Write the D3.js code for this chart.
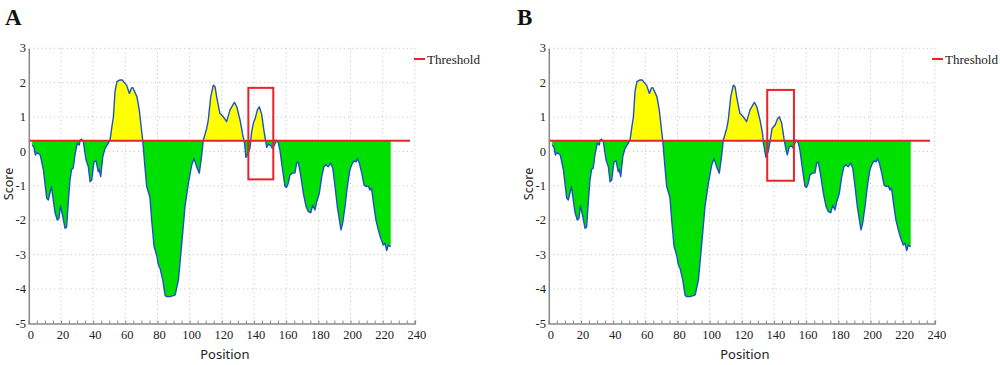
<!DOCTYPE html>
<html><head><meta charset="utf-8">
<script src="https://cdn.jsdelivr.net/npm/d3@7/dist/d3.min.js"></script>
<style>body{margin:0;background:#fff}svg{display:block}</style>
</head><body><svg id="c" width="1000" height="365"></svg>
<script>
const positions = [2.1,3.1,4.1,5.1,7.1,9.1,11.1,12.1,14.1,16.2,17.7,18.7,19.7,21.2,22.5,23.5,24.5,25.6,26.6,27.6,28.7,30.1,31.4,31.9,32.9,33.9,34.6,35.6,37.0,38.1,39.1,40.5,41.8,43.2,43.8,44.7,46.0,47.4,48.8,50.5,51.6,52.6,53.6,54.8,56.7,58.1,59.8,60.8,62.5,63.8,64.6,66.0,67.3,68.7,69.6,70.8,72.2,73.3,75.3,76.4,77.9,79.5,80.6,81.6,83.3,84.7,85.7,87.8,89.8,91.0,93.0,95.1,97.1,99.2,101.3,102.7,104.3,106.0,107.4,108.5,110.6,111.6,113.1,114.7,115.8,116.8,118.8,120.9,123.0,125.1,127.8,129.3,131.3,133.0,134.1,135.0,136.4,137.5,138.5,139.6,140.7,142.1,143.3,144.8,146.2,147.9,148.9,150.4,151.6,153.0,154.0,155.2,156.2,157.8,159.3,160.3,161.3,162.4,164.0,165.5,166.5,167.5,169.0,170.7,172.4,173.8,175.3,176.5,177.9,179.0,180.6,182.1,183.5,184.7,186.2,187.7,189.0,190.4,191.8,193.1,194.1,195.1,196.6,198.0,199.6,200.7,202.2,203.5,204.3,205.5,207.0,208.4,209.6,211.0,212.1,213.1,214.6,215.8,217.3,218.8,220.4,221.5,222.5,223.5,225.0];
const scoresA = [0.19,0.14,-0.1,-0.03,-0.1,-0.54,-1.36,-1.41,-1.02,-1.75,-1.99,-1.95,-1.58,-1.9,-2.23,-2.2,-1.51,-0.83,-0.52,-0.49,-0.1,0.24,0.19,0.33,0.36,0.29,0.05,-0.25,-0.44,-0.88,-0.83,-0.3,-0.27,-0.59,-0.52,-0.73,-0.15,0.09,0.19,0.33,0.7,1.01,1.74,2.03,2.08,2.08,1.98,1.93,1.69,1.84,1.86,1.72,1.58,1.2,0.82,0.33,-0.45,-1.02,-1.33,-2.0,-2.77,-3.01,-3.3,-3.4,-3.74,-4.17,-4.22,-4.22,-4.19,-4.17,-3.74,-2.67,-1.6,-0.92,-0.39,-0.2,-0.44,-0.63,-0.15,0.33,0.67,0.92,1.59,1.93,1.88,1.59,1.11,1.01,0.87,1.21,1.43,1.3,0.92,0.48,0.25,-0.17,-0.05,0.1,0.55,0.82,0.95,1.21,1.3,1.08,0.6,0.12,0.22,0.17,0.08,0.22,0.33,0.24,0.02,-0.54,-1.02,-1.04,-0.92,-0.68,-0.63,-0.62,-0.34,-0.31,-0.68,-1.22,-1.6,-1.75,-1.78,-1.56,-1.7,-1.46,-1.22,-0.73,-0.44,-0.39,-0.44,-0.34,-0.49,-1.02,-1.6,-1.99,-2.28,-2.09,-1.6,-1.02,-0.54,-0.39,-0.27,-0.3,-0.2,-0.34,-0.63,-0.97,-1.02,-1.0,-1.12,-1.07,-1.6,-1.99,-2.28,-2.52,-2.72,-2.67,-2.88,-2.72,-2.77];
// Panel B differs only in the boxed region
const positionsBRegion = [133.3,135.0,136.4,137.5,138.8,140.7,142.1,143.3,144.8,146.2,147.5,148.3,149.5,151.0,152.0,153.6];
const scoresBRegion = [0.28,-0.17,0.0,0.28,0.67,0.77,0.94,1.01,0.82,0.38,0.04,-0.1,0.14,0.16,0.09,0.33];
const threshold = 0.31;
const xTicks = [0,20,40,60,80,100,120,140,160,180,200,220,240];
const yTicks = [3,2,1,0,-1,-2,-3,-4,-5];
const panelLabels = ["A","B"];
const boxA = {x0:136.5, x1:152.0, y0:-0.81, y1:1.85};
const boxB = {x0:135.8, x1:152.4, y0:-0.85, y1:1.79};

function buildB(){
  const lo = positionsBRegion[0], hi = positionsBRegion[positionsBRegion.length-1];
  const pts = [];
  positions.forEach((p,i)=>{ if(p<lo||p>hi) pts.push([p,scoresA[i]]); });
  positionsBRegion.forEach((p,i)=>pts.push([p,scoresBRegion[i]]));
  pts.sort((a,b)=>a[0]-b[0]);
  return pts;
}
const dataA = positions.map((p,i)=>[p,scoresA[i]]);
const dataB = buildB();

const svg = d3.select("#c");
const serif = "'Liberation Serif','DejaVu Serif',serif";
const sans = "'Noto Sans','DejaVu Sans',sans-serif";

function panel(offset, data, label, box, id, labelX, legendX){
  const x = d3.scaleLinear().domain([0,240]).range([28.8+offset, 28.8+offset+240*1.6085]);
  const y = d3.scaleLinear().domain([-5,3]).range([323.5,48.3]);
  const g = svg.append("g");
  // grid
  g.selectAll(".gx").data(xTicks.filter(d=>d>0)).enter().append("line")
    .attr("x1",d=>x(d)).attr("x2",d=>x(d)).attr("y1",y(3)).attr("y2",y(-5))
    .attr("stroke","#c8c8c8").attr("stroke-dasharray","1.2,3").attr("stroke-width",1);
  g.selectAll(".gy").data(yTicks.filter(d=>d>-5)).enter().append("line")
    .attr("x1",x(0)).attr("x2",x(240)).attr("y1",d=>y(d)).attr("y2",d=>y(d))
    .attr("stroke","#c8c8c8").attr("stroke-dasharray","1.2,3").attr("stroke-width",1);
  // fills
  const area = d3.area().x(d=>x(d[0])).y0(y(threshold)).y1(d=>y(d[1]));
  const defs = svg.append("defs");
  defs.append("clipPath").attr("id","up"+id).append("rect")
    .attr("x",x(0)).attr("y",0).attr("width",x(240)-x(0)).attr("height",y(threshold));
  defs.append("clipPath").attr("id","dn"+id).append("rect")
    .attr("x",x(0)).attr("y",y(threshold)).attr("width",x(240)-x(0)).attr("height",365-y(threshold));
  g.append("path").datum(data).attr("d",area).attr("fill","#ffff00").attr("clip-path",`url(#up${id})`);
  g.append("path").datum(data).attr("d",area).attr("fill","#00e000").attr("clip-path",`url(#dn${id})`);
  g.append("path").datum(data).attr("d",d3.line().x(d=>x(d[0])).y(d=>y(d[1])))
    .attr("fill","none").attr("stroke","#2050c8").attr("stroke-width",1.4).attr("stroke-linejoin","round");
  // threshold
  g.append("line").attr("x1",x(0)).attr("x2",x(237)).attr("y1",y(threshold)).attr("y2",y(threshold))
    .attr("stroke","#e8232a").attr("stroke-width",2);
  // axes
  const ax = g.append("g").attr("transform",`translate(0,${y(-5)})`)
    .call(d3.axisBottom(x).tickValues(d3.range(0,241,5)).tickSize(-3).tickFormat(""));
  ax.select(".domain").attr("stroke","#888").attr("stroke-width",1.5);
  ax.selectAll(".tick line").attr("stroke","#888");
  g.selectAll(".xl").data(xTicks).enter().append("text")
    .attr("x",d=>x(d)+2).attr("y",339).attr("text-anchor","middle")
    .attr("font-family",serif).attr("font-size",12.5).attr("fill","#222").text(d=>d);
  const ay = g.append("g").attr("transform",`translate(${x(0)},0)`)
    .call(d3.axisLeft(y).tickValues(yTicks).tickSize(0).tickFormat(""));
  ay.select(".domain").attr("stroke","#888").attr("stroke-width",1.5);
  g.selectAll(".yl").data(yTicks).enter().append("text")
    .attr("x",offset+26).attr("y",d=>y(d)+4).attr("text-anchor","end")
    .attr("font-family",serif).attr("font-size",12.5).attr("fill","#222").text(d=>d);
  // titles
  g.append("text").attr("x",x(120)+3).attr("y",359).attr("text-anchor","middle")
    .attr("font-family",sans).attr("font-size",13).attr("fill","#222").text("Position");
  g.append("text").attr("transform",`translate(${offset+13},184) rotate(-90)`).attr("text-anchor","middle")
    .attr("font-family",sans).attr("font-size",12.5).attr("fill","#222").text("Score");
  // legend
  g.append("line").attr("x1",legendX).attr("x2",legendX+11).attr("y1",59).attr("y2",59)
    .attr("stroke","#e8232a").attr("stroke-width",2);
  g.append("text").attr("x",legendX+13).attr("y",64).attr("font-family",serif).attr("font-size",13)
    .attr("textLength",53).attr("lengthAdjust","spacingAndGlyphs")
    .attr("fill","#222").text("Threshold");
  // annotation box
  g.append("rect").attr("x",x(box.x0)).attr("y",y(box.y1)).attr("width",x(box.x1)-x(box.x0))
    .attr("height",y(box.y0)-y(box.y1)).attr("fill","none").attr("stroke","#e8232a").attr("stroke-width",2);
  // panel label
  g.append("text").attr("x",labelX).attr("y",25).attr("font-family",serif).attr("font-weight","bold")
    .attr("font-size",23).attr("fill","#111").text(label);
}
panel(0, dataA, panelLabels[0], boxA, "a", 5, 414);
panel(520, dataB, panelLabels[1], boxB, "b", 517, 932);
</script></body></html>
